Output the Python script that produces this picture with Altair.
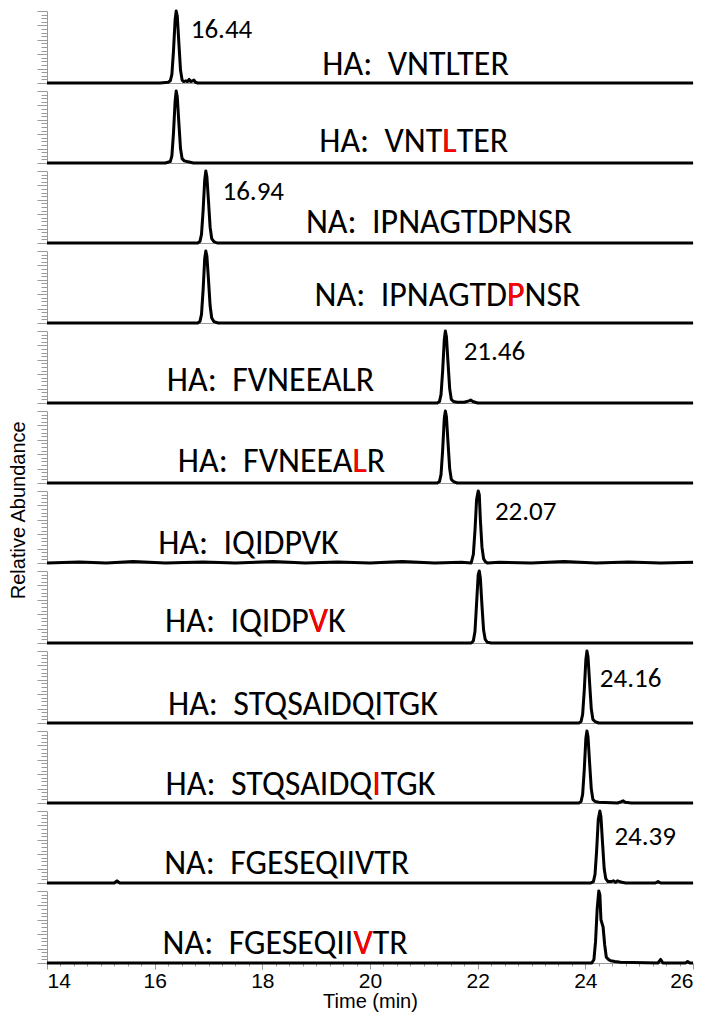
import altair as alt
import pandas as pd

X_DOMAIN = [14, 26]

# ---- chromatogram traces (time in min, relative abundance 0..1) ----
t1 = [14.0, 14.8, 15.5, 16.1, 16.25, 16.29, 16.32, 16.35, 16.38, 16.40, 16.42, 16.45, 16.48, 16.51, 16.54, 16.58, 16.61, 16.64, 16.67, 16.70, 16.73, 16.76, 16.80, 26.0]
i1 = [0.0, 0.0, 0.0, 0.0, 0.01, 0.03, 0.12, 0.45, 0.88, 1.0, 0.93, 0.55, 0.18, 0.04, 0.02, 0.03, 0.02, 0.05, 0.02, 0.03, 0.04, 0.01, 0.0, 0.0]

t2 = [14.0, 16.2, 16.29, 16.32, 16.35, 16.38, 16.40, 16.42, 16.45, 16.48, 16.51, 16.55, 16.60, 16.66, 16.72, 26.0]
i2 = [0.0, 0.0, 0.02, 0.10, 0.42, 0.86, 1.0, 0.92, 0.55, 0.20, 0.06, 0.03, 0.02, 0.01, 0.0, 0.0]

t3 = [14.0, 16.80, 16.84, 16.87, 16.90, 16.93, 16.95, 16.97, 17.00, 17.03, 17.06, 17.10, 17.16, 26.0]
i3 = [0.0, 0.0, 0.02, 0.12, 0.45, 0.88, 1.0, 0.92, 0.58, 0.22, 0.06, 0.02, 0.0, 0.0]

t4 = [14.0, 16.80, 16.84, 16.87, 16.90, 16.93, 16.95, 16.97, 17.00, 17.03, 17.06, 17.10, 17.18, 26.0]
i4 = [0.0, 0.0, 0.02, 0.12, 0.46, 0.90, 1.0, 0.93, 0.60, 0.24, 0.07, 0.02, 0.0, 0.0]

t5 = [14.0, 21.25, 21.29, 21.32, 21.35, 21.38, 21.40, 21.42, 21.45, 21.48, 21.51, 21.55, 21.62, 21.75, 21.84, 21.87, 21.91, 22.0, 26.0]
i5 = [0.0, 0.0, 0.02, 0.12, 0.45, 0.88, 1.0, 0.92, 0.55, 0.20, 0.05, 0.02, 0.01, 0.01, 0.03, 0.04, 0.02, 0.0, 0.0]

t6 = [14.0, 21.25, 21.29, 21.32, 21.35, 21.38, 21.40, 21.42, 21.45, 21.48, 21.51, 21.55, 21.62, 26.0]
i6 = [0.0, 0.0, 0.02, 0.12, 0.46, 0.90, 1.0, 0.92, 0.55, 0.20, 0.05, 0.02, 0.0, 0.0]

t7 = [14.0, 14.6, 15.1, 15.6, 16.2, 16.9, 17.5, 18.2, 18.8, 19.4, 20.0, 20.6, 21.2, 21.7, 21.88, 21.92, 21.95, 21.98, 22.01, 22.03, 22.05, 22.08, 22.11, 22.14, 22.18, 22.4, 23.0, 23.6, 24.2, 24.8, 25.4, 26.0]
i7 = [0.0, 0.015, 0.0, 0.02, 0.0, 0.015, 0.0, 0.02, 0.0, 0.015, 0.0, 0.02, 0.0, 0.01, 0.0, 0.12, 0.45, 0.88, 1.0, 0.95, 0.60, 0.22, 0.06, 0.02, 0.0, 0.01, 0.0, 0.02, 0.0, 0.015, 0.0, 0.01]

t8 = [14.0, 21.88, 21.92, 21.95, 21.98, 22.01, 22.03, 22.05, 22.08, 22.11, 22.14, 22.18, 22.25, 26.0]
i8 = [0.0, 0.0, 0.03, 0.16, 0.55, 0.95, 1.0, 0.90, 0.52, 0.18, 0.05, 0.01, 0.0, 0.0]

t9 = [14.0, 23.88, 23.92, 23.95, 23.98, 24.01, 24.03, 24.05, 24.08, 24.11, 24.14, 24.18, 24.25, 26.0]
i9 = [0.0, 0.0, 0.02, 0.12, 0.45, 0.88, 1.0, 0.92, 0.55, 0.20, 0.05, 0.02, 0.0, 0.0]

t10 = [14.0, 23.88, 23.92, 23.95, 23.98, 24.01, 24.03, 24.05, 24.08, 24.11, 24.14, 24.18, 24.25, 24.60, 24.67, 24.70, 24.74, 24.85, 26.0]
i10 = [0.0, 0.0, 0.02, 0.12, 0.46, 0.90, 1.0, 0.92, 0.55, 0.20, 0.05, 0.02, 0.01, 0.0, 0.02, 0.03, 0.01, 0.0, 0.0]

t11 = [14.0, 15.25, 15.30, 15.35, 24.10, 24.15, 24.18, 24.21, 24.24, 24.27, 24.29, 24.32, 24.35, 24.38, 24.42, 24.48, 24.52, 24.56, 24.60, 24.64, 24.68, 24.75, 25.30, 25.35, 25.40, 26.0]
i11 = [0.0, 0.0, 0.03, 0.0, 0.0, 0.02, 0.12, 0.45, 0.88, 1.0, 0.92, 0.55, 0.20, 0.06, 0.02, 0.02, 0.03, 0.01, 0.03, 0.02, 0.01, 0.0, 0.0, 0.02, 0.0, 0.0]

t12 = [14.0, 24.12, 24.16, 24.19, 24.22, 24.25, 24.27, 24.29, 24.31, 24.33, 24.36, 24.39, 24.43, 24.47, 24.55, 24.65, 25.35, 25.40, 25.44, 25.86, 25.90, 25.94, 26.0]
i12 = [0.0, 0.0, 0.05, 0.30, 0.75, 1.0, 0.95, 0.60, 0.55, 0.50, 0.25, 0.08, 0.05, 0.03, 0.02, 0.01, 0.0, 0.05, 0.0, 0.0, 0.02, 0.0, 0.0]

traces_t = [t1, t2, t3, t4, t5, t6, t7, t8, t9, t10, t11, t12]
traces_i = [i1, i2, i3, i4, i5, i6, i7, i8, i9, i10, i11, i12]

# ---- peptide labels: black text ending with the (possibly red) letter, red letter, trailing text ----
NB = "\u00a0"
label_head = ["HA:" + NB + " VNTLTER", "HA:" + NB + " VNTL", "NA:" + NB + " IPNAGTDPNSR", "NA:" + NB + " IPNAGTDP",
              "HA:" + NB + " FVNEEALR", "HA:" + NB + " FVNEEAL", "HA:" + NB + " IQIDPVK", "HA:" + NB + " IQIDPV",
              "HA:" + NB + " STQSAIDQITGK", "HA:" + NB + " STQSAIDQI", "NA:" + NB + " FGESEQIIVTR", "NA:" + NB + " FGESEQIIV"]
label_red = ["", "L", "", "P", "", "L", "", "V", "", "I", "", "V"]
label_tail = ["", "TER", "", "NSR", "", "R", "", "K", "", "TGK", "", "TR"]
label_x = [22.58, 21.61, 23.75, 22.87, 20.08, 19.94, 19.42, 19.22, 21.26, 20.20, 20.73, 20.05]
label_y = [0.11, 0.15, 0.14, 0.23, 0.17, 0.15, 0.13, 0.15, 0.11, 0.11, 0.13, 0.12]

# ---- retention-time annotations ----
rt_text = ["16.44", "", "16.94", "", "21.46", "", "22.07", "", "24.16", "", "24.39", ""]
rt_x = [16.67, None, 17.26, None, 21.74, None, 22.32, None, 24.27, None, 24.54, None]
rt_y = [0.625, None, 0.60, None, 0.60, None, 0.60, None, 0.50, None, 0.53, None]

GRAY = "#9a9a9a"
LABEL_FONT = "Carlito, Lato, sans-serif"
AXIS_FONT = "Liberation Sans Narrow, Liberation Sans, Arial, sans-serif"

y_ticks = [round(0.05 * k, 2) for k in range(21)]
x_ticks = [14 + 0.25 * k for k in range(49)]

xscale = alt.Scale(domain=X_DOMAIN, nice=False, zero=False)
yscale = alt.Scale(domain=[0, 1], nice=False, zero=True)

yaxis = alt.Axis(values=y_ticks, labels=False, title=None, grid=False,
                 domainColor=GRAY, domainWidth=1, tickColor=GRAY, tickWidth=1,
                 tickSize={"condition": {"test": "round(datum.value*20) % 4 === 0", "value": 10}, "value": 6})
xaxis_last = alt.Axis(values=x_ticks, title="Time (min)", grid=False,
                      labelExpr="datum.value % 2 === 0 ? format(datum.value, 'd') : ''",
                      labelFont=AXIS_FONT, labelFontSize=21, labelColor="black", labelPadding=1,
                      labelOverlap=False,
                      titleFont=AXIS_FONT, titleFontSize=20, titleFontWeight="normal", titleColor="black",
                      titlePadding=0,
                      domainColor=GRAY, tickColor=GRAY,
                      tickSize={"condition": {"test": "datum.value % 2 === 0", "value": 6}, "value": 3})
xaxis_plain = alt.Axis(labels=False, ticks=False, title=None, grid=False, domainColor=GRAY)


def panel(k, last):
    xaxis = xaxis_last if last else xaxis_plain
    enc = dict(x=alt.X("t:Q", scale=xscale, axis=xaxis), y=alt.Y("v:Q", scale=yscale, axis=yaxis))

    df = pd.DataFrame({"t": traces_t[k], "v": traces_i[k]})
    line = alt.Chart(df).mark_line(color="black", strokeWidth=3, strokeJoin="round").encode(**enc)

    lab = pd.DataFrame({"t": [label_x[k]], "v": [label_y[k]], "a": [label_head[k]],
                        "r": [label_red[k]], "b": [label_tail[k]]})
    common = dict(baseline="alphabetic", font=LABEL_FONT, fontSize=34)
    ta = alt.Chart(lab).mark_text(align="right", color="black", **common).encode(text="a:N", **enc)
    tr = alt.Chart(lab).mark_text(align="right", color="#ff0000", **common).encode(text="r:N", **enc)
    tb = alt.Chart(lab).mark_text(align="left", color="black", **common).encode(text="b:N", **enc)
    layers = [line, ta, tr, tb]
    if rt_text[k]:
        rt = pd.DataFrame({"t": [rt_x[k]], "v": [rt_y[k]], "s": [rt_text[k]]})
        layers.append(alt.Chart(rt).mark_text(align="left", baseline="alphabetic", font=LABEL_FONT,
                                              fontSize=27, color="black").encode(text="s:N", **enc))
    return alt.layer(*layers).properties(width=646, height=72)


panels = [panel(k, k == 11) for k in range(12)]

chart = alt.vconcat(*panels, spacing=4).properties(
    title=alt.TitleParams("Relative Abundance", orient="left", anchor="middle", fontSize=20,
                          font=AXIS_FONT, fontWeight="normal", color="black", offset=8),
    padding={"left": 0, "top": 1, "right": 5, "bottom": 2},
).configure_view(stroke=None)

chart.save("out.html", embed_options={"renderer": "svg", "actions": False})
